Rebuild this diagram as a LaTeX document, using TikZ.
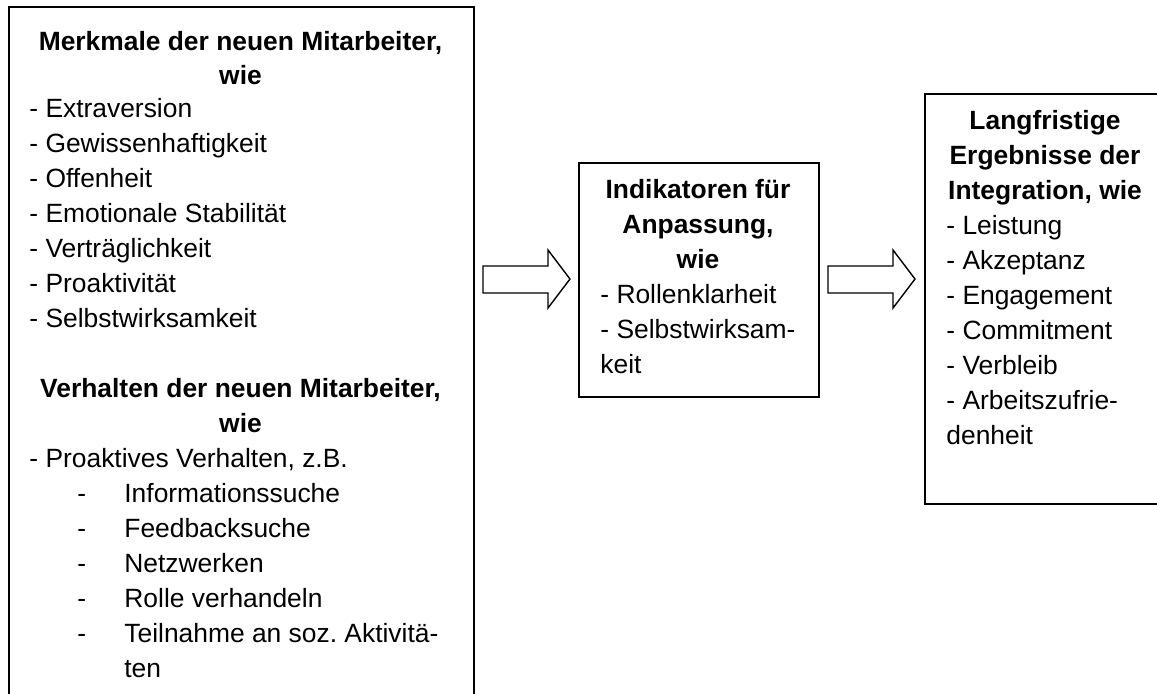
\documentclass[tikz,border=0pt]{standalone}
\usepackage{fontspec}
\setmainfont{Liberation Sans}
\frenchspacing
\begin{document}
\begin{tikzpicture}[x=0.5pt,y=-0.5pt,
  box/.style={draw=black, line width=1pt, anchor=north west, inner sep=0pt},
  txt/.style={anchor=base west, inner sep=0pt, font=\fontsize{13.2}{15}\selectfont},
  hd/.style={anchor=base, inner sep=0pt, font=\fontsize{13.2}{15}\selectfont\bfseries},
  blockarrow/.style={draw=black, line width=0.7pt, fill=white, line join=miter}]
\useasboundingbox (0,0) rectangle (1157,693);
\clip (0,0) rectangle (1157,693);
% boxes
\node[box, minimum width=232.5pt, minimum height=357pt] (left) at (8,6) {};
\node[box, minimum width=120pt, minimum height=117pt] (mid) at (578,162) {};
\node[box, minimum width=121pt, minimum height=205pt] (right) at (924,93) {};
% left box text
\node[hd] (l1) at (240.5,50) {Merkmale der neuen Mitarbeiter,};
\node[hd] (l2) at (240.5,84) {wie};
\node[txt] (l3) at (29,117) {- Extraversion};
\node[txt] (l4) at (29,152) {- Gewissenhaftigkeit};
\node[txt] (l5) at (29,187) {- Offenheit};
\node[txt] (l6) at (29,222) {- Emotionale Stabilität};
\node[txt] (l7) at (29,257) {- Verträglichkeit};
\node[txt] (l8) at (29,292) {- Proaktivität};
\node[txt] (l9) at (29,327) {- Selbstwirksamkeit};
\node[hd] (l10) at (240.5,397) {Verhalten der neuen Mitarbeiter,};
\node[hd] (l11) at (240.5,432) {wie};
\node[txt] (l12) at (29,467) {- Proaktives Verhalten, z.B.};
\node[txt] (d1) at (77,502) {-};
\node[txt] (s1) at (124,502) {Informationssuche};
\node[txt] (d2) at (77,537) {-};
\node[txt] (s2) at (124,537) {Feedbacksuche};
\node[txt] (d3) at (77,572) {-};
\node[txt] (s3) at (124,572) {Netzwerken};
\node[txt] (d4) at (77,607) {-};
\node[txt] (s4) at (124,607) {Rolle verhandeln};
\node[txt] (d5) at (77,642) {-};
\node[txt] (s5) at (124,642) {Teilnahme an soz. Aktivitä-};
\node[txt] (s6) at (124,677) {ten};
% middle box text
\node[hd] (m1) at (698,198) {Indikatoren für};
\node[hd] (m2) at (698,233) {Anpassung,};
\node[hd] (m3) at (698,268) {wie};
\node[txt] (m4) at (600,303) {- Rollenklarheit};
\node[txt] (m5) at (600,338) {- Selbstwirksam-};
\node[txt] (m6) at (600,373) {keit};
% right box text
\node[hd] (r1) at (1045,129) {Langfristige};
\node[hd] (r2) at (1045,164) {Ergebnisse der};
\node[hd] (r3) at (1045,199) {Integration, wie};
\node[txt] (r4) at (946,234) {- Leistung};
\node[txt] (r5) at (946,269) {- Akzeptanz};
\node[txt] (r6) at (946,304) {- Engagement};
\node[txt] (r7) at (946,339) {- Commitment};
\node[txt] (r8) at (946,374) {- Verbleib};
\node[txt] (r9) at (946,409) {- Arbeitszufrie-};
\node[txt] (r10) at (946,444) {denheit};
% block arrows
\draw[blockarrow] (483,266) -- (548,266) -- (548,250) -- (570,279) -- (548,308) -- (548,293) -- (483,293) -- cycle;
\draw[blockarrow] (828,266) -- (893,266) -- (893,250) -- (915,279) -- (893,308) -- (893,293) -- (828,293) -- cycle;
\end{tikzpicture}
\end{document}
